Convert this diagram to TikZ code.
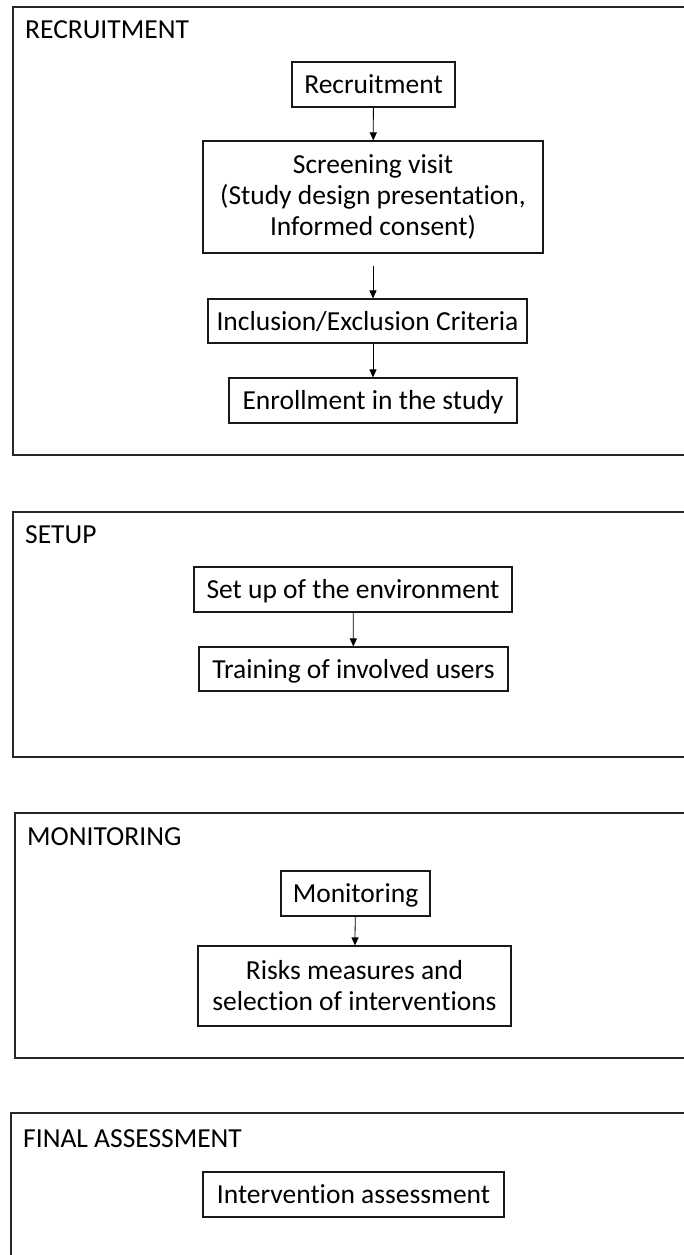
\documentclass[tikz,border=0pt]{standalone}
\usepackage{fontspec}
\setmainfont{Carlito}[Ligatures=NoCommon]
\usetikzlibrary{arrows.meta}

\begin{document}
\begin{tikzpicture}[x=1pt,y=-1pt]
\tikzset{
  phaseframe/.style={draw=black!85,line width=1.4pt},
  phasetitle/.style={anchor=base west,inner sep=0pt,font=\fontsize{27.5}{31}\selectfont},
  stepbox/.style={draw=black!90,line width=1.1pt,inner sep=0pt,font=\fontsize{27.5}{31}\selectfont,text height=20pt,text depth=2pt},
  multibox/.style={draw=black!90,line width=1.1pt,inner sep=0pt,font=\fontsize{27.5}{31}\selectfont,align=center},
  directed/.style={draw=black,line width=0.8pt,-{Triangle[length=8pt,width=7pt]}}
}
\useasboundingbox (0,0) rectangle (684,1255);
\draw[phaseframe] (13,7) rectangle (700,455);
\draw[phaseframe] (13,512) rectangle (700,757);
\draw[phaseframe] (15,813) rectangle (700,1058);
\draw[phaseframe] (11,1113) rectangle (700,1270);
\node[phasetitle] (t_rec) at (25,39) {RECRUITMENT};
\node[phasetitle] (t_set) at (25,543) {SETUP};
\node[phasetitle] (t_mon) at (27,845) {MONITORING};
\node[phasetitle] (t_fin) at (23,1147) {FINAL ASSESSMENT};
\node[stepbox,minimum width=163pt,minimum height=45pt] (n_rec) at (373.5,84.5) {Recruitment};
\node[multibox,minimum width=340pt,minimum height=112pt] (n_screen) at (373,197) {Screening visit\\(Study design presentation,\\Informed consent)};
\node[stepbox,minimum width=319pt,minimum height=44pt] (n_incl) at (367.5,321) {Inclusion/Exclusion Criteria};
\node[stepbox,minimum width=288pt,minimum height=45pt] (n_enrol) at (373,400.5) {Enrollment in the study};
\node[stepbox,minimum width=318pt,minimum height=45pt] (n_env) at (353,589.5) {Set up of the environment};
\node[stepbox,minimum width=309pt,minimum height=44pt] (n_train) at (353.5,669) {Training of involved users};
\node[stepbox,minimum width=149pt,minimum height=45pt] (n_mon) at (355.5,893.5) {Monitoring};
\node[multibox,minimum width=313pt,minimum height=80pt] (n_risk) at (354.5,986) {Risks measures and\\selection of interventions};
\node[stepbox,minimum width=301pt,minimum height=45pt] (n_assess) at (353.5,1194.5) {Intervention assessment};
\draw[directed] (n_rec) -- (n_screen);
\draw[directed,shorten <=12pt] (n_screen.south) -- (n_screen.south |- n_incl.north);
\draw[directed] (n_incl.south -| n_screen.south) -- (n_enrol.north);
\draw[directed] (n_env) -- (n_train);
\draw[directed] (n_mon) -- (n_risk);
\end{tikzpicture}
\end{document}
